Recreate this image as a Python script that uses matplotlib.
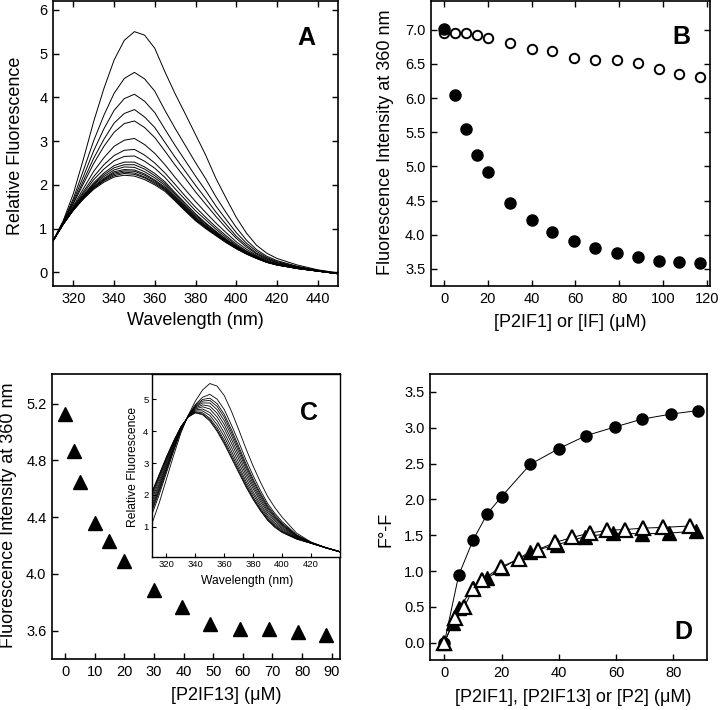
import matplotlib
matplotlib.use("Agg")
import matplotlib.pyplot as plt

plt.rcParams['font.family'] = ['Liberation Sans', 'DejaVu Sans']

# ---------------- Panel A: emission spectra ----------------
wl_a = [310, 315, 320, 325, 330, 335, 340, 345, 350, 355, 360, 365, 370, 375,
        380, 385, 390, 395, 400, 405, 410, 415, 420, 430, 440, 450]
spectra_a = [
    [0.72, 1.18, 1.80, 2.60, 3.45, 4.20, 4.85, 5.30, 5.50, 5.42, 5.12, 4.58, 4.08, 3.62, 3.15, 2.68, 2.15, 1.70, 1.26, 0.90, 0.62, 0.44, 0.32, 0.17, 0.06, -0.01],
    [0.72, 1.16, 1.69, 2.34, 3.01, 3.59, 4.09, 4.43, 4.57, 4.42, 4.14, 3.70, 3.29, 2.90, 2.51, 2.14, 1.73, 1.37, 1.03, 0.74, 0.52, 0.37, 0.27, 0.14, 0.05, -0.02],
    [0.72, 1.15, 1.64, 2.20, 2.78, 3.28, 3.70, 3.97, 4.07, 3.91, 3.65, 3.27, 2.90, 2.55, 2.20, 1.87, 1.52, 1.21, 0.91, 0.67, 0.48, 0.34, 0.25, 0.13, 0.05, -0.02],
    [0.72, 1.14, 1.59, 2.10, 2.61, 3.04, 3.41, 3.63, 3.72, 3.55, 3.31, 2.97, 2.63, 2.31, 1.99, 1.69, 1.38, 1.10, 0.83, 0.62, 0.44, 0.32, 0.23, 0.12, 0.04, -0.02],
    [0.72, 1.13, 1.57, 2.03, 2.49, 2.88, 3.20, 3.40, 3.46, 3.31, 3.08, 2.77, 2.45, 2.15, 1.84, 1.56, 1.28, 1.02, 0.78, 0.58, 0.42, 0.30, 0.22, 0.12, 0.04, -0.02],
    [0.72, 1.12, 1.52, 1.92, 2.31, 2.62, 2.88, 3.02, 3.06, 2.92, 2.72, 2.46, 2.17, 1.89, 1.62, 1.37, 1.13, 0.91, 0.70, 0.53, 0.39, 0.28, 0.20, 0.11, 0.04, -0.03],
    [0.72, 1.12, 1.49, 1.85, 2.19, 2.46, 2.67, 2.79, 2.81, 2.68, 2.50, 2.27, 2.01, 1.74, 1.49, 1.26, 1.04, 0.84, 0.65, 0.49, 0.37, 0.26, 0.19, 0.10, 0.04, -0.03],
    [0.72, 1.11, 1.47, 1.81, 2.12, 2.36, 2.55, 2.65, 2.66, 2.54, 2.38, 2.17, 1.91, 1.66, 1.41, 1.20, 0.99, 0.80, 0.62, 0.48, 0.36, 0.25, 0.19, 0.10, 0.03, -0.03],
    [0.72, 1.11, 1.46, 1.77, 2.05, 2.27, 2.44, 2.52, 2.52, 2.41, 2.26, 2.07, 1.82, 1.58, 1.34, 1.13, 0.94, 0.76, 0.60, 0.46, 0.34, 0.25, 0.18, 0.10, 0.03, -0.03],
    [0.72, 1.11, 1.45, 1.75, 2.02, 2.23, 2.39, 2.46, 2.46, 2.36, 2.21, 2.03, 1.79, 1.54, 1.31, 1.11, 0.93, 0.75, 0.59, 0.45, 0.34, 0.24, 0.18, 0.10, 0.03, -0.03],
    [0.72, 1.10, 1.44, 1.74, 2.00, 2.19, 2.34, 2.41, 2.40, 2.30, 2.16, 1.99, 1.75, 1.51, 1.28, 1.08, 0.91, 0.73, 0.58, 0.44, 0.34, 0.24, 0.18, 0.09, 0.03, -0.03],
    [0.72, 1.10, 1.44, 1.72, 1.97, 2.15, 2.30, 2.35, 2.34, 2.25, 2.11, 1.95, 1.72, 1.48, 1.25, 1.06, 0.89, 0.72, 0.57, 0.44, 0.33, 0.24, 0.18, 0.09, 0.03, -0.03],
    [0.72, 1.10, 1.43, 1.71, 1.95, 2.13, 2.27, 2.32, 2.31, 2.22, 2.09, 1.92, 1.70, 1.46, 1.23, 1.05, 0.88, 0.71, 0.56, 0.43, 0.33, 0.24, 0.17, 0.09, 0.03, -0.03],
    [0.72, 1.10, 1.43, 1.70, 1.93, 2.11, 2.24, 2.29, 2.27, 2.18, 2.06, 1.90, 1.67, 1.44, 1.21, 1.03, 0.86, 0.70, 0.55, 0.43, 0.32, 0.23, 0.17, 0.09, 0.03, -0.03],
    [0.72, 1.10, 1.42, 1.69, 1.92, 2.09, 2.21, 2.26, 2.24, 2.16, 2.03, 1.88, 1.65, 1.42, 1.20, 1.02, 0.85, 0.69, 0.55, 0.42, 0.32, 0.23, 0.17, 0.09, 0.03, -0.03],
    [0.72, 1.10, 1.42, 1.68, 1.90, 2.06, 2.18, 2.22, 2.20, 2.12, 2.00, 1.85, 1.63, 1.40, 1.18, 1.00, 0.84, 0.68, 0.54, 0.42, 0.32, 0.23, 0.17, 0.09, 0.03, -0.03],
]
a_xticks = [320, 340, 360, 380, 400, 420, 440]
a_yticks = [0, 1, 2, 3, 4, 5, 6]

# ---------------- Panel B ----------------
b_conc = [0, 5, 10, 15, 20, 30, 40, 49.5, 59.5, 69, 79, 88.5, 98, 107.5, 117]
b_p2if1 = [7.01, 6.04, 5.55, 5.17, 4.92, 4.47, 4.22, 4.04, 3.91, 3.80, 3.73, 3.68, 3.62, 3.60, 3.58]
b_if = [6.95, 6.95, 6.95, 6.92, 6.88, 6.81, 6.72, 6.69, 6.58, 6.56, 6.55, 6.51, 6.42, 6.35, 6.31]
b_xticks = [0, 20, 40, 60, 80, 100, 120]
b_yticks = [3.5, 4.0, 4.5, 5.0, 5.5, 6.0, 6.5, 7.0]

# ---------------- Panel C ----------------
c_conc = [0, 3, 5, 10, 15, 20, 30, 39.5, 49, 59, 69, 78.5, 88]
c_int = [5.13, 4.87, 4.65, 4.36, 4.23, 4.09, 3.89, 3.77, 3.65, 3.61, 3.61, 3.59, 3.57]
c_xticks = [0, 10, 20, 30, 40, 50, 60, 70, 80, 90]
c_yticks = [3.6, 4.0, 4.4, 4.8, 5.2]

# inset spectra
wl_c = [310, 315, 320, 325, 330, 335, 340, 345, 350, 355, 360, 365, 370, 375,
        380, 385, 390, 395, 400, 410, 420, 430, 440]
spectra_c = [
    [1.10, 1.75, 2.50, 3.25, 3.95, 4.50, 4.95, 5.30, 5.50, 5.42, 5.12, 4.62, 4.05, 3.45, 2.90, 2.40, 1.95, 1.60, 1.30, 0.80, 0.52, 0.35, 0.22],
    [1.39, 2.01, 2.70, 3.38, 4.01, 4.49, 4.84, 5.07, 5.16, 5.01, 4.68, 4.19, 3.66, 3.10, 2.60, 2.14, 1.73, 1.42, 1.16, 0.75, 0.51, 0.35, 0.22],
    [1.49, 2.10, 2.77, 3.43, 4.03, 4.48, 4.81, 5.00, 5.04, 4.87, 4.53, 4.05, 3.52, 2.98, 2.49, 2.05, 1.66, 1.36, 1.11, 0.73, 0.50, 0.35, 0.22],
    [1.55, 2.16, 2.82, 3.45, 4.04, 4.48, 4.78, 4.95, 4.97, 4.78, 4.44, 3.96, 3.44, 2.91, 2.43, 2.00, 1.61, 1.32, 1.08, 0.72, 0.50, 0.35, 0.22],
    [1.62, 2.22, 2.86, 3.48, 4.05, 4.47, 4.76, 4.89, 4.89, 4.68, 4.33, 3.86, 3.35, 2.83, 2.35, 1.93, 1.56, 1.28, 1.05, 0.70, 0.50, 0.34, 0.21],
    [1.70, 2.29, 2.92, 3.52, 4.07, 4.47, 4.73, 4.83, 4.79, 4.57, 4.21, 3.74, 3.24, 2.73, 2.27, 1.86, 1.50, 1.23, 1.01, 0.69, 0.50, 0.34, 0.21],
    [1.78, 2.36, 2.98, 3.56, 4.09, 4.47, 4.70, 4.77, 4.70, 4.45, 4.09, 3.62, 3.13, 2.63, 2.19, 1.79, 1.44, 1.18, 0.97, 0.67, 0.49, 0.34, 0.21],
    [1.87, 2.44, 3.04, 3.60, 4.10, 4.46, 4.67, 4.70, 4.59, 4.33, 3.95, 3.49, 3.01, 2.53, 2.09, 1.71, 1.37, 1.12, 0.93, 0.65, 0.49, 0.34, 0.21],
    [1.95, 2.52, 3.10, 3.63, 4.12, 4.46, 4.64, 4.64, 4.50, 4.21, 3.83, 3.37, 2.90, 2.43, 2.01, 1.64, 1.31, 1.07, 0.89, 0.64, 0.49, 0.34, 0.21],
    [2.02, 2.58, 3.14, 3.66, 4.13, 4.45, 4.61, 4.58, 4.41, 4.11, 3.72, 3.27, 2.81, 2.35, 1.93, 1.57, 1.26, 1.03, 0.86, 0.63, 0.48, 0.34, 0.21],
    [2.07, 2.62, 3.18, 3.69, 4.14, 4.45, 4.59, 4.54, 4.36, 4.04, 3.65, 3.19, 2.74, 2.29, 1.88, 1.53, 1.22, 1.00, 0.83, 0.62, 0.48, 0.34, 0.21],
    [2.10, 2.65, 3.20, 3.70, 4.15, 4.45, 4.58, 4.52, 4.32, 4.00, 3.60, 3.15, 2.70, 2.25, 1.85, 1.50, 1.20, 0.98, 0.82, 0.61, 0.48, 0.34, 0.21],
]
inset_xticks = [320, 340, 360, 380, 400, 420]
inset_yticks = [1, 2, 3, 4, 5]

# ---------------- Panel D ----------------
d_conc_p2if1 = [0, 5, 10, 15, 20, 30, 40, 49.5, 59.5, 69, 79, 88.5]
d_dF_p2if1 = [0, 0.94, 1.43, 1.80, 2.04, 2.49, 2.71, 2.89, 3.01, 3.12, 3.19, 3.24]
d_conc_p2if13 = [0, 3, 5, 10, 15, 20, 30, 39.5, 49, 59, 69, 78.5, 88]
d_dF_p2if13 = [0, 0.28, 0.48, 0.76, 0.90, 1.04, 1.27, 1.37, 1.48, 1.53, 1.52, 1.53, 1.56]
d_conc_p2 = [0, 3.7, 6.9, 10.1, 13.0, 19.8, 26.2, 32.6, 38.7, 44.6, 50.7, 56.9, 63.1, 69.5, 76.5, 85.8]
d_dF_p2 = [0, 0.35, 0.50, 0.75, 0.87, 1.06, 1.17, 1.30, 1.40, 1.47, 1.53, 1.57, 1.58, 1.60, 1.61, 1.63]
d_xticks = [0, 20, 40, 60, 80]
d_yticks = [0.0, 0.5, 1.0, 1.5, 2.0, 2.5, 3.0, 3.5]

# ---------------- figure ----------------
W, H = 720, 710
fig = plt.figure(figsize=(7.2, 7.1), dpi=100)


def box(l, t, r, b):
    return [l / W, 1 - b / H, (r - l) / W, (b - t) / H]


def ftext(x, y, s, **kw):
    fig.text(x / W, 1 - y / H, s, ha='center', va='center', **kw)


TICK = 10.5
LAB = 13


def style(ax, allsides=True, size=TICK, length=4.5):
    for s in ax.spines.values():
        s.set_linewidth(1.2)
    ax.tick_params(direction='in', length=length, width=1.0, labelsize=size,
                   top=allsides, right=allsides, pad=4)


# Panel A
axA = fig.add_axes(box(53, 1, 338, 286))
for curve in spectra_a:
    axA.plot(wl_a, curve, color='black', lw=0.7)
axA.set_xlim(310, 450)
axA.set_ylim(-0.31, 6.2)
axA.set_xticks(a_xticks)
axA.set_yticks(a_yticks)
style(axA)
ftext(195, 320, 'Wavelength (nm)', fontsize=LAB)
ftext(16, 146, 'Relative Fluorescence', fontsize=LAB, rotation=90)
ftext(306, 38, 'A', fontsize=18, fontweight='bold')

# Panel B
axB = fig.add_axes(box(431, 1, 710, 286))
axB.plot(b_conc, b_if, 'o', ms=6.8, mfc='white', mec='black', mew=1.4, ls='none')
axB.plot(b_conc, b_p2if1, 'o', ms=8, mfc='black', mec='black', ls='none')
axB.set_xlim(-6, 121.5)
axB.set_ylim(3.25, 7.42)
axB.set_xticks(b_xticks)
axB.set_yticks(b_yticks)
axB.set_yticklabels(['%.1f' % v for v in b_yticks])
style(axB)
ftext(570, 322, '[P2IF1] or [IF] (\u03bcM)', fontsize=LAB)
ftext(385, 142, 'Fluorescence Intensity at 360 nm', fontsize=LAB, rotation=90)
ftext(681, 37, 'B', fontsize=18, fontweight='bold')

# Panel C
axC = fig.add_axes(box(52, 374, 340, 659))
axC.plot(c_conc, c_int, '^', ms=10, color='black', ls='none')
axC.set_xlim(-4.4, 92.8)
axC.set_ylim(3.4, 5.41)
axC.set_xticks(c_xticks)
axC.set_yticks(c_yticks)
axC.set_yticklabels(['%.1f' % v for v in c_yticks])
style(axC, allsides=False)
ftext(226, 696, '[P2IF13] (\u03bcM)', fontsize=LAB)
ftext(9, 515, 'Fluorescence Intensity at 360 nm', fontsize=LAB, rotation=90)

axI = fig.add_axes(box(152, 374, 340, 557))
for curve in spectra_c:
    axI.plot(wl_c, curve, color='black', lw=0.6)
axI.set_xlim(310, 440)
axI.set_ylim(0.05, 5.8)
axI.set_xticks(inset_xticks)
axI.set_yticks(inset_yticks)
for s in axI.spines.values():
    s.set_linewidth(1.0)
axI.tick_params(direction='in', length=3, width=0.8, labelsize=6.8, pad=2.5)
ftext(247, 581, 'Wavelength (nm)', fontsize=8.7)
ftext(133, 467, 'Relative Fluorescence', fontsize=8.7, rotation=90)
ftext(309, 413, 'C', fontsize=18, fontweight='bold')

# Panel D
axD = fig.add_axes(box(430, 374, 707, 660))
axD.plot(d_conc_p2if1, d_dF_p2if1, '-', color='black', lw=0.7)
axD.plot(d_conc_p2, d_dF_p2, '-', color='black', lw=0.7)
axD.plot(d_conc_p2if13, d_dF_p2if13, '-', color='black', lw=0.7)
axD.plot(d_conc_p2if1, d_dF_p2if1, 'o', ms=8, color='black', ls='none')
axD.plot(d_conc_p2if13, d_dF_p2if13, '^', ms=9.5, color='black', ls='none')
axD.plot(d_conc_p2, d_dF_p2, '^', ms=9.5, mfc='white', mec='black', mew=1.6, ls='none')
axD.set_xlim(-5, 91.7)
axD.set_ylim(-0.24, 3.75)
axD.set_xticks(d_xticks)
axD.set_yticks(d_yticks)
axD.set_yticklabels(['%.1f' % v for v in d_yticks])
style(axD, allsides=False)
ftext(573, 697, '[P2IF1], [P2IF13] or [P2] (\u03bcM)', fontsize=LAB)
ftext(386, 529, 'F\u00b0-F', fontsize=LAB, rotation=90)
ftext(683, 632, 'D', fontsize=18, fontweight='bold')

fig.savefig('out.png', dpi=100)
